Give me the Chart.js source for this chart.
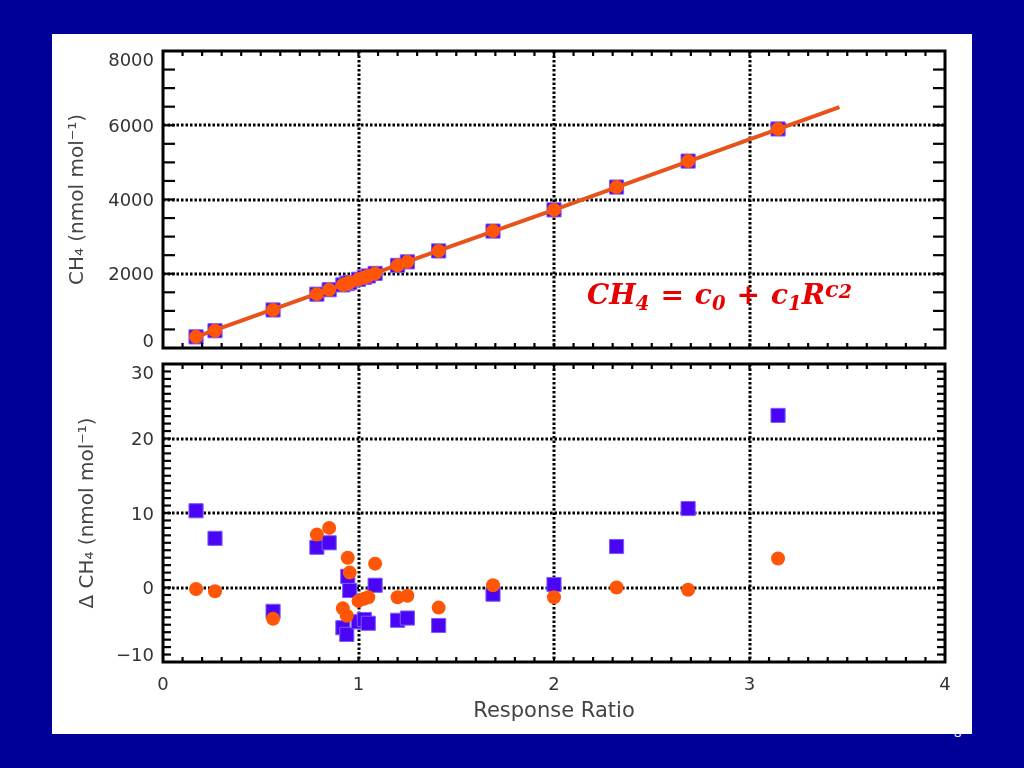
<!DOCTYPE html>
<html>
<head>
<meta charset="utf-8">
<script src="https://cdn.jsdelivr.net/npm/chart.js@4.4.1/dist/chart.umd.min.js"></script>
<style>
body{margin:0;width:1024px;height:768px;background:#000099;overflow:hidden;position:relative}
#pageNum{position:absolute;left:954px;top:726px;color:#fff;font:13px/1 "Open Sans";}
#panel{position:absolute;left:52px;top:34px;width:920px;height:700px;background:#fff}
canvas{position:absolute;left:0;top:0}
#eq{position:absolute;left:587px;top:281px;font:bold italic 28px/1 "DejaVu Serif";color:#e60000;white-space:nowrap}
#eq .op{font-style:normal;margin:0 11px}
#eq sub{position:relative;top:0.29em;font-size:0.7em;vertical-align:baseline}
#eq sup{position:relative;top:-0.3em;font-size:0.8em;vertical-align:baseline}
#eq sup sub{top:0.05em;font-size:0.85em}
</style>
</head>
<body>
<div id="pageNum">8</div>
<div id="panel"></div>
<canvas id="fitChart" width="1024" height="768"></canvas>
<canvas id="residChart" width="1024" height="768"></canvas>
<div id="eq">CH<sub>4</sub><span class="op">=</span>c<sub>0</sub><span class="op">+</span>c<sub>1</sub>R<sup>c<sub>2</sub></sup></div>
<script>
// response ratio of each standard, with measured CH4 and the residuals of the two fits
const ratio = [0.169, 0.266, 0.563, 0.787, 0.85, 0.92, 0.94, 0.945, 0.955, 1.0, 1.03, 1.05, 1.085, 1.2, 1.25, 1.41, 1.688, 2.0, 2.32, 2.686, 3.146];
const ch4 = [300, 465, 1025, 1450, 1570, 1700, 1735, 1745, 1765, 1850, 1905, 1940, 2010, 2225, 2320, 2615, 3150, 3720, 4335, 5035, 5900];
const deltaBlue = [10.3, 6.6, -3.2, 5.4, 6.0, -5.4, -6.3, 1.5, -0.4, -4.6, -4.3, -4.8, 0.3, -4.4, -4.1, -5.1, -0.9, 0.4, 5.5, 10.6, 23.1];
const deltaOrange = [-0.2, -0.5, -4.2, 7.1, 8.0, -2.8, -3.8, 4.0, 2.0, -1.8, -1.5, -1.3, 3.2, -1.3, -1.1, -2.7, 0.3, -1.3, 0.0, -0.3, 3.9];
// fitted curve
const fitRatio = [0.165, 1.0, 2.0, 3.0, 3.46];
const fitCh4 = [295, 1860, 3720, 5620, 6490];
// axis ticks
const xTicks = [0, 1, 2, 3, 4];
const ch4Ticks = [0, 2000, 4000, 6000, 8000];
const deltaTicks = [-10, 0, 10, 20, 30];

const BLUE = "#4a05f5";
const ORANGE = "#ff5506";
const LINE = "#e8531c";
const TICK_FONT = "18px 'DejaVu Sans'";

function pts(xs, ys){
    return xs.map((x,i)=>({x:x, y:ys[i]}));
}
function setTicks(list){
    return scale=>{ scale.ticks = list.map(v=>({value:v})); };
}
function fmt(v){
    return v < 0 ? "\u2212" + Math.abs(v) : String(v);
}
function seg(ctx,x1,y1,x2,y2){
    ctx.beginPath(); ctx.moveTo(x1,y1); ctx.lineTo(x2,y2); ctx.stroke();
}

// IDL style box: dotted grid, inward minor ticks on all sides, heavy frame
const idlFrame = {
    id:"idlFrame",
    beforeDatasetsDraw(chart){
        const {ctx, chartArea:a} = chart;
        const xs = chart.scales.x, ys = chart.scales.y;
        ctx.save();
        ctx.strokeStyle = "#000";
        ctx.lineWidth = 3;
        ctx.setLineDash([2.5,2]);
        xs.ticks.forEach(t=>{
            const p = Math.round(xs.getPixelForValue(t.value));
            if(p <= a.left+1 || p >= a.right-1) return;
            seg(ctx,p,a.top,p,a.bottom);
        });
        ys.ticks.forEach(t=>{
            const p = Math.round(ys.getPixelForValue(t.value));
            if(p <= a.top+1 || p >= a.bottom-1) return;
            seg(ctx,a.left,p,a.right,p);
        });
        ctx.restore();
    },
    afterDatasetsDraw(chart, args, o){
        const {ctx, chartArea:a} = chart;
        const xs = chart.scales.x, ys = chart.scales.y;
        ctx.save();
        ctx.strokeStyle = "#000";
        ctx.lineWidth = 2.2;
        const nx = Math.round((xs.max-xs.min)/o.xMinor);
        for(let i=1;i<nx;i++){
            const p = xs.getPixelForValue(xs.min + i*o.xMinor);
            seg(ctx,p,a.bottom,p,a.bottom-o.xLen);
            seg(ctx,p,a.top,p,a.top+o.xLen);
        }
        const ny = Math.round((ys.max-ys.min)/o.yMinor);
        for(let i=1;i<ny;i++){
            const p = ys.getPixelForValue(ys.min + i*o.yMinor);
            seg(ctx,a.left,p,a.left+o.yLen,p);
            seg(ctx,a.right,p,a.right-o.yLen,p);
        }
        ctx.lineWidth = 3;
        ctx.strokeRect(a.left,a.top,a.right-a.left,a.bottom-a.top);
        ctx.font = TICK_FONT;
        ctx.fillStyle = "#333";
        ctx.textAlign = "right";
        ctx.textBaseline = "middle";
        ys.ticks.forEach(t=>{
            let p = ys.getPixelForValue(t.value) + 2;
            p = Math.min(Math.max(p, a.top+10), a.bottom-6);
            ctx.fillText(fmt(t.value), a.left-9, p);
        });
        ctx.restore();
    }
};

function noPad(s){
    s.paddingLeft = 0; s.paddingRight = 0; s.paddingTop = 0; s.paddingBottom = 0;
}

const tickFont = {family:"DejaVu Sans", size:18};
const titleFont = {family:"DejaVu Sans", size:20};

new Chart(document.getElementById("fitChart"),{
    type:"scatter",
    data:{
        datasets:[
            {label:"orange", data:pts(ratio,ch4), pointStyle:"circle", pointRadius:7, backgroundColor:ORANGE, borderWidth:0},
            {type:"line", label:"fit", data:pts(fitRatio,fitCh4), borderColor:LINE, borderWidth:4, pointRadius:0, fill:false, tension:0},
            {label:"blue", data:pts(ratio,ch4), pointStyle:"rect", pointRadius:10, backgroundColor:BLUE, borderColor:"#7a5cff", borderWidth:1}
        ]
    },
    options:{
        responsive:false,
        animation:false,
        events:[],
        layout:{padding:{left:62, top:51, right:79, bottom:420}},
        plugins:{
            legend:{display:false},
            tooltip:{enabled:false},
            idlFrame:{xMinor:0.1, xLen:5, yMinor:500, yLen:12}
        },
        scales:{
            x:{
                type:"linear", min:0, max:4,
                afterBuildTicks:setTicks(xTicks),
                ticks:{display:false},
                grid:{display:false, drawTicks:false},
                border:{display:false},
                afterFit:s=>{ s.height = 0; noPad(s); }
            },
            y:{
                type:"linear", min:0, max:8000,
                afterBuildTicks:setTicks(ch4Ticks),
                ticks:{display:false},
                grid:{display:false, drawTicks:false},
                border:{display:false},
                title:{display:true, text:"CH\u2084 (nmol mol\u207B\u00B9)", font:titleFont, color:"#444", padding:{top:4, bottom:4}},
                afterFit:s=>{ s.width = 101; noPad(s); }
            }
        }
    },
    plugins:[idlFrame]
});

new Chart(document.getElementById("residChart"),{
    type:"scatter",
    data:{
        datasets:[
            {label:"orange", data:pts(ratio,deltaOrange), pointStyle:"circle", pointRadius:7, backgroundColor:ORANGE, borderWidth:0},
            {label:"blue", data:pts(ratio,deltaBlue), pointStyle:"rect", pointRadius:10, backgroundColor:BLUE, borderColor:"#7a5cff", borderWidth:1}
        ]
    },
    options:{
        responsive:false,
        animation:false,
        events:[],
        layout:{padding:{left:72, top:364, right:79, bottom:42}},
        plugins:{
            legend:{display:false},
            tooltip:{enabled:false},
            idlFrame:{xMinor:0.1, xLen:5, yMinor:1, yLen:8}
        },
        scales:{
            x:{
                type:"linear", min:0, max:4,
                afterBuildTicks:setTicks(xTicks),
                ticks:{display:true, padding:13, maxRotation:0, font:tickFont, color:"#333", callback:v=>fmt(v)},
                grid:{display:false, drawTicks:false},
                border:{display:false},
                title:{display:true, text:"Response Ratio", font:{family:"DejaVu Sans", size:21}, color:"#444", padding:{top:0, bottom:1.5}},
                afterFit:s=>{ s.height = 64; noPad(s); }
            },
            y:{
                type:"linear", min:-10, max:30,
                afterBuildTicks:setTicks(deltaTicks),
                ticks:{display:false},
                grid:{display:false, drawTicks:false},
                border:{display:false},
                title:{display:true, text:"\u0394 CH\u2084 (nmol mol\u207B\u00B9)", font:titleFont, color:"#444", padding:{top:4, bottom:4}},
                afterFit:s=>{ s.width = 91; noPad(s); }
            }
        }
    },
    plugins:[idlFrame]
});
</script>
</body>
</html>
